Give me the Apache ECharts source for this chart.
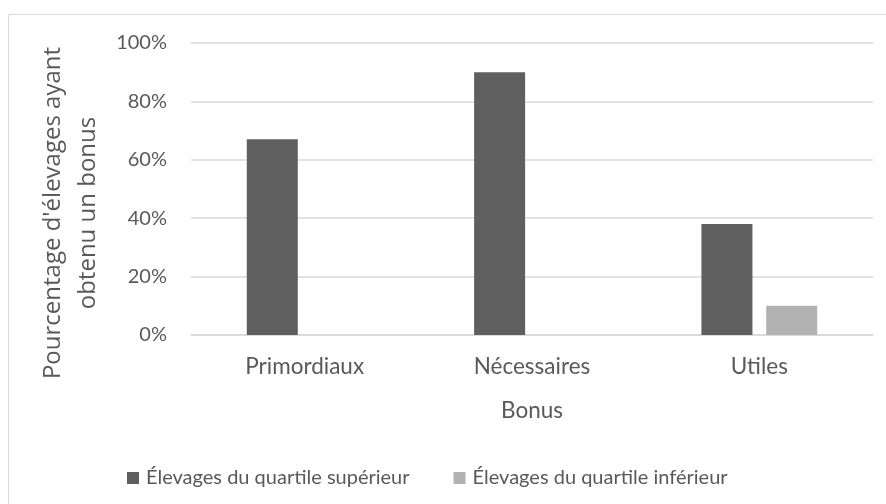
<!DOCTYPE html>
<html>
<head>
<meta charset="utf-8">
<script src="https://cdn.jsdelivr.net/npm/echarts@6/dist/echarts.min.js"></script>
<style>
  html, body { margin: 0; padding: 0; background: #ffffff; }
  #chart { width: 886px; height: 504px; }
</style>
</head>
<body>
<div id="chart"></div>
<script>
// Bonus categories and share of farms (percent) that obtained each bonus
const categories = ['Primordiaux', 'Nécessaires', 'Utiles'];
const seriesNames = ['Élevages du quartile supérieur', 'Élevages du quartile inférieur'];
const upperQuartile = [67, 90, 38];
const lowerQuartile = [0, 0, 10];
const yTicks = [0, 20, 40, 60, 80, 100];

const textColor = '#595959';
const gridColor = '#d9d9d9';
const labelFont = 'Lato, "Open Sans", sans-serif';
const titleFont = '"Open Sans", "DejaVu Sans", sans-serif';

const chart = echarts.init(document.getElementById('chart'), null, { renderer: 'canvas' });

chart.setOption({
  backgroundColor: '#ffffff',
  animation: false,
  graphic: [
    {
      // light frame around the chart area
      type: 'rect',
      shape: { x: 8.5, y: 14.5, width: 900, height: 520 },
      style: { fill: 'none', stroke: gridColor, lineWidth: 1 },
      silent: true,
      z: -1
    }
  ],
  grid: {
    left: 191, right: 13, top: 43, bottom: 169,
    containLabel: false,
    outerBoundsMode: 'none'
  },
  legend: {
    left: 122,
    top: 463,
    itemWidth: 12,
    itemHeight: 12,
    itemGap: 44,
    icon: 'rect',
    textStyle: { color: textColor, fontFamily: labelFont, fontSize: 20, padding: [0, 0, 0, 2] },
    data: seriesNames
  },
  xAxis: {
    type: 'category',
    data: categories,
    name: 'Bonus',
    nameLocation: 'middle',
    nameGap: 64,
    nameTextStyle: { color: textColor, fontFamily: labelFont, fontSize: 22.5 },
    axisLine: { show: true, lineStyle: { color: gridColor, width: 1.5 } },
    axisTick: { show: false },
    axisLabel: { color: textColor, fontFamily: labelFont, fontSize: 22.5, margin: 20 }
  },
  yAxis: {
    type: 'value',
    min: yTicks[0],
    max: yTicks[yTicks.length - 1],
    interval: yTicks[1] - yTicks[0],
    name: "Pourcentage d'élevages ayant\nobtenu un bonus",
    nameLocation: 'middle',
    nameGap: 76,
    nameRotate: 90,
    nameTextStyle: {
      color: textColor,
      fontFamily: titleFont,
      fontSize: 24,
      lineHeight: 35,
      padding: [0, 48, 0, 0]
    },
    axisLine: { show: false },
    axisTick: { show: false },
    splitLine: { lineStyle: { color: gridColor, width: 1.5 } },
    axisLabel: {
      color: textColor,
      fontFamily: labelFont,
      fontSize: 20,
      margin: 24,
      formatter: v => v + '%'
    }
  },
  series: [
    {
      name: seriesNames[0],
      type: 'bar',
      data: upperQuartile,
      barWidth: 51,
      barGap: '27%',
      itemStyle: { color: '#5f5f5f' }
    },
    {
      name: seriesNames[1],
      type: 'bar',
      data: lowerQuartile,
      barWidth: 51,
      itemStyle: { color: '#b2b2b2' }
    }
  ]
});
</script>
</body>
</html>
